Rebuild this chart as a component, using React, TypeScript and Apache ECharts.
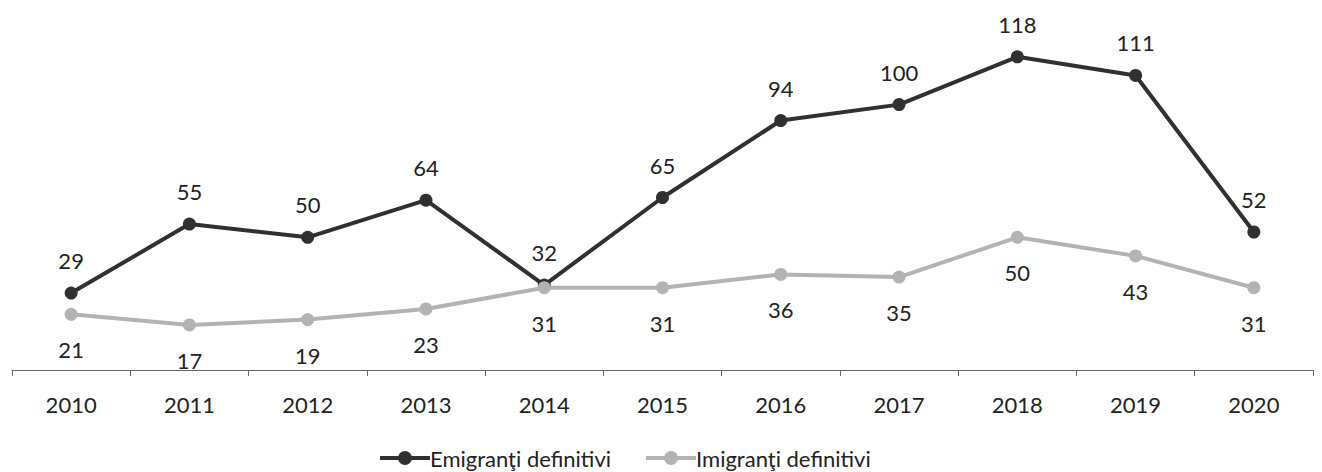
import React, { useEffect, useRef } from "react";
import * as echarts from "echarts";

const years = ["2010", "2011", "2012", "2013", "2014", "2015", "2016", "2017", "2018", "2019", "2020"];
const emigranti = [29, 55, 50, 64, 32, 65, 94, 100, 118, 111, 52];
const imigranti = [21, 17, 19, 23, 31, 31, 36, 35, 50, 43, 31];

const FONT = "Lato, 'Open Sans', sans-serif";
const LEGEND_ICON = "path://M0,5 L50,5 L50,9 L0,9 Z M32,7 A7,7 0 1,1 18,7 A7,7 0 1,1 32,7 Z";

export default function App() {
  const ref = useRef<HTMLDivElement>(null);
  useEffect(() => {
    const chart = echarts.init(ref.current!, null, { renderer: "svg" });
    chart.setOption({
      animation: false,
      textStyle: { fontFamily: FONT },
      grid: { left: 12, right: 9, top: 25, bottom: 102 },
      xAxis: {
        type: "category",
        data: years,
        boundaryGap: true,
        axisLine: { show: true, lineStyle: { color: "#666", width: 1 } },
        axisTick: { show: true, alignWithLabel: false, length: 6, lineStyle: { color: "#666" } },
        axisLabel: { color: "#222", fontSize: 22, margin: 23, fontFamily: FONT },
      },
      yAxis: {
        type: "value",
        min: 0,
        max: 130,
        show: false,
        splitLine: { show: false },
      },
      legend: {
        top: 447,
        left: 380,
        padding: 0,
        itemWidth: 50,
        itemHeight: 14,
        itemGap: 35,
        itemStyle: { borderWidth: 0 },
        textStyle: { fontSize: 22, color: "#222", fontFamily: FONT, padding: [0, 0, 0, -5] },
        data: [
          { name: "Emigranţi definitivi", icon: LEGEND_ICON },
          { name: "Imigranţi definitivi", icon: LEGEND_ICON },
        ],
      },
      series: [
        {
          name: "Emigranţi definitivi",
          type: "line",
          data: emigranti,
          symbol: "circle",
          symbolSize: 13,
          lineStyle: { color: "#303030", width: 4 },
          itemStyle: { color: "#303030" },
          label: {
            show: true,
            position: "top",
            distance: 15,
            fontSize: 22,
            color: "#222",
            fontFamily: FONT,
          },
        },
        {
          name: "Imigranţi definitivi",
          type: "line",
          data: imigranti,
          symbol: "circle",
          symbolSize: 13,
          lineStyle: { color: "#b3b3b3", width: 4 },
          itemStyle: { color: "#b3b3b3" },
          label: {
            show: true,
            position: "bottom",
            distance: 18,
            fontSize: 22,
            color: "#222",
            fontFamily: FONT,
          },
        },
      ],
    });
    return () => chart.dispose();
  }, []);
  return <div ref={ref} style={{ width: 1322, height: 472, position: "absolute", left: 0, top: 0 }} />;
}
